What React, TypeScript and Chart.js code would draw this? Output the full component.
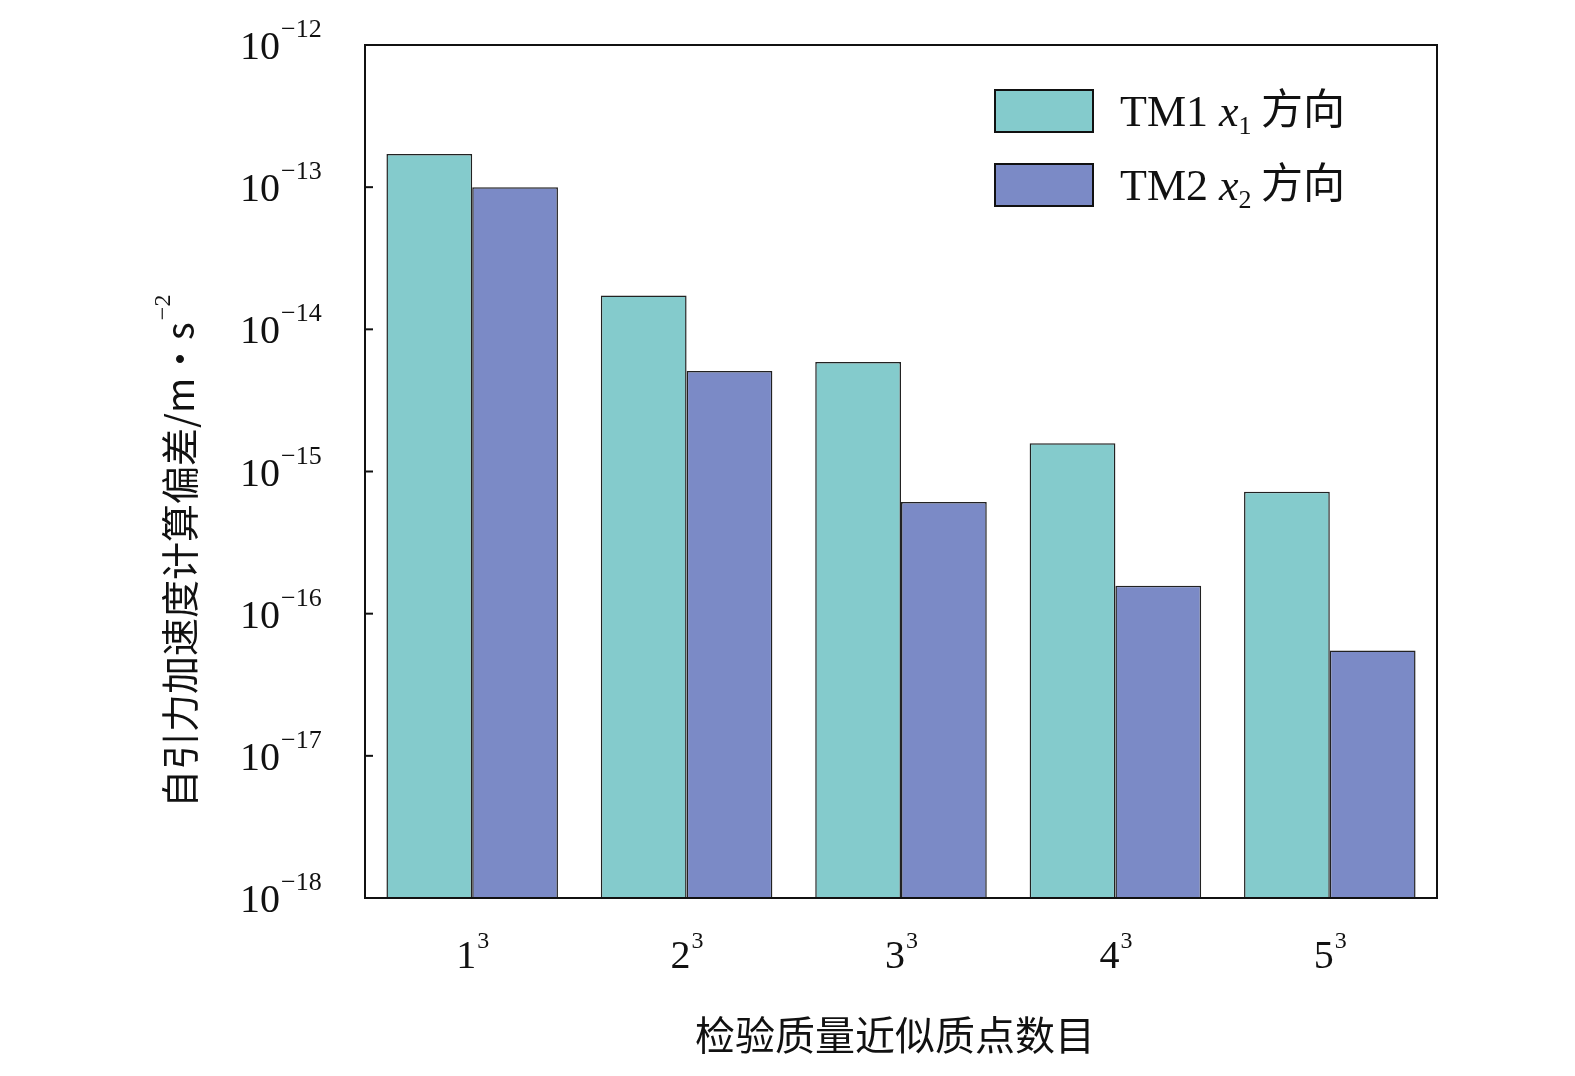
import React, { useEffect, useRef } from "react";
import { Chart, registerables } from "chart.js";
Chart.register(...registerables);

const categories = ["1", "2", "3", "4", "5"];
const categoryExp = "3";
const tm1Values = [1.71e-13, 1.73e-14, 5.9e-15, 1.58e-15, 7.2e-16];
const tm2Values = [1.0e-13, 5.1e-15, 6.1e-16, 1.57e-16, 5.5e-17];
const tickExponents = [-12, -13, -14, -15, -16, -17, -18];
const seriesNames = [["TM1 ", "x", "1", " 方向"], ["TM2 ", "x", "2", " 方向"]];
const colors = ["#84CBCC", "#7B8AC6"];
const yTitle = "自引力加速度计算偏差/m·s";
const xTitle = "检验质量近似质点数目";

const SERIF = '"Liberation Serif", "DejaVu Serif", serif';
const CJK = '"Noto Sans CJK SC", sans-serif';

const overlay = {
  id: "overlay",
  afterDraw(chart: any) {
    const ctx = chart.ctx;
    const a = chart.chartArea;
    const y = chart.scales.y;
    const x = chart.scales.x;
    ctx.save();
    ctx.fillStyle = "#111";
    ctx.strokeStyle = "#111";
    ctx.lineWidth = 2;
    ctx.strokeRect(a.left, a.top, a.right - a.left, a.bottom - a.top);
    // y ticks
    tickExponents.forEach((e) => {
      const py = y.getPixelForValue(Math.pow(10, e));
      ctx.beginPath();
      ctx.moveTo(a.left, py);
      ctx.lineTo(a.left + 8, py);
      ctx.stroke();
      ctx.font = `40px ${SERIF}`;
      ctx.textAlign = "right";
      ctx.textBaseline = "alphabetic";
      ctx.fillText("10", 280, py + 14);
      ctx.font = `26px ${SERIF}`;
      ctx.textAlign = "left";
      ctx.fillText("\u2212" + Math.abs(e), 281, py - 8);
    });
    // x labels
    categories.forEach((c, i) => {
      const px = x.getPixelForValue(i);
      ctx.font = `40px ${SERIF}`;
      ctx.textAlign = "right";
      ctx.fillText(c, px + 4, 968);
      ctx.font = `24px ${SERIF}`;
      ctx.textAlign = "left";
      ctx.fillText(categoryExp, px + 5, 948);
    });
    // x title
    ctx.font = `40px ${CJK}`;
    ctx.textAlign = "center";
    ctx.textBaseline = "middle";
    ctx.fillText(xTitle, 895, 1035);
    // y title
    ctx.save();
    ctx.translate(180, 808);
    ctx.rotate(-Math.PI / 2);
    ctx.textAlign = "left";
    ctx.textBaseline = "middle";
    ctx.font = `38px ${CJK}`;
    ctx.fillText(yTitle, 0, 0);
    const w = ctx.measureText(yTitle).width;
    ctx.font = `24px ${SERIF}`;
    ctx.fillText("\u22122", w + 2, -16);
    ctx.restore();
    // legend
    seriesNames.forEach((parts, i) => {
      const top = i === 0 ? 90 : 164;
      ctx.fillStyle = colors[i];
      ctx.fillRect(995, top, 98, 42);
      ctx.strokeStyle = "#111";
      ctx.lineWidth = 2;
      ctx.strokeRect(995, top, 98, 42);
      ctx.fillStyle = "#111";
      const base = top + 36;
      let cx = 1120;
      ctx.textAlign = "left";
      ctx.textBaseline = "alphabetic";
      ctx.font = `44px ${SERIF}`;
      ctx.fillText(parts[0], cx, base);
      cx += ctx.measureText(parts[0]).width;
      ctx.font = `italic 44px ${SERIF}`;
      ctx.fillText(parts[1], cx, base);
      cx += ctx.measureText(parts[1]).width;
      ctx.font = `26px ${SERIF}`;
      ctx.fillText(parts[2], cx, base + 8);
      cx += ctx.measureText(parts[2]).width;
      ctx.font = `42px ${CJK}`;
      ctx.fillText(parts[3], cx, base - 2);
    });
    ctx.restore();
  },
};

export default function App() {
  const ref = useRef<HTMLCanvasElement>(null);
  useEffect(() => {
    const chart = new Chart(ref.current!, {
      type: "bar",
      data: {
        labels: categories,
        datasets: [
          { label: "TM1", data: tm1Values, backgroundColor: colors[0], borderColor: "#222", borderWidth: 1.5, borderSkipped: "bottom" },
          { label: "TM2", data: tm2Values, backgroundColor: colors[1], borderColor: "#222", borderWidth: 1.5, borderSkipped: "bottom" },
        ],
      },
      options: {
        animation: false,
        responsive: false,
        layout: { padding: { left: 357, right: 138, top: 45, bottom: 170 } },
        plugins: { legend: { display: false }, tooltip: { enabled: false } },
        datasets: { bar: { categoryPercentage: 0.8, barPercentage: 1 } },
        scales: {
          x: { ticks: { display: false }, grid: { display: false }, border: { display: false } },
          y: {
            type: "logarithmic",
            min: 1e-18,
            max: 1e-12,
            ticks: { display: false },
            grid: { display: false },
            border: { display: false },
          },
        },
      },
      plugins: [overlay],
    });
    return () => chart.destroy();
  }, []);
  return (
    <div style={{ position: "fixed", left: 0, top: 0, width: 1575, height: 1076, background: "#fff" }}>
      <canvas ref={ref} width={1575} height={1076} style={{ width: 1575, height: 1076 }} />
    </div>
  );
}
